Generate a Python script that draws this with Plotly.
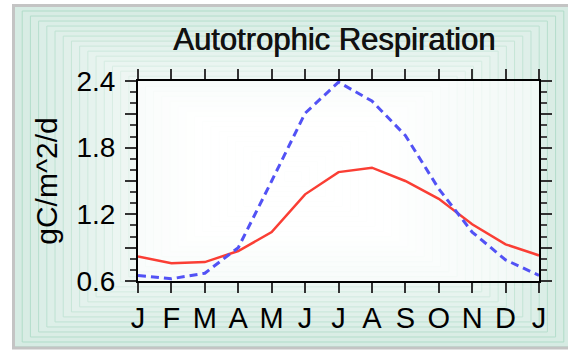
import plotly.graph_objects as go

# ---- data ----
month_labels = ["J", "F", "M", "A", "M", "J", "J", "A", "S", "O", "N", "D", "J"]
month_pos = list(range(13))
red_series = [0.82, 0.76, 0.77, 0.87, 1.04, 1.38, 1.58, 1.62, 1.50, 1.34, 1.11, 0.93, 0.83]
blue_series = [0.65, 0.62, 0.67, 0.90, 1.50, 2.11, 2.39, 2.22, 1.91, 1.43, 1.04, 0.79, 0.65]
y_tickvals = [0.6, 0.9, 1.2, 1.5, 1.8, 2.1, 2.4]
y_ticktext = ["0.6", "", "1.2", "", "1.8", "", "2.4"]

W, H = 568, 350
L, R, T, B = 138, 29, 81, 69
PW, PH = W - L - R, H - T - B


def px(x):
    return (x - L) / PW


def py(y):
    return (H - B - y) / PH


def lerp(a, b, t):
    return tuple(round(a[i] + (b[i] - a[i]) * t) for i in range(3))


shapes = []
# concentric gradient background panel
x0p, y0p, x1p, y1p = 14, 6, 572, 347
cx, cy = (x0p + x1p) / 2, (y0p + y1p) / 2
hw, hh = (x1p - x0p) / 2, (y1p - y0p) / 2
N = 34
fill_edge, fill_center = (214, 235, 227), (255, 255, 255)
line_edge, line_center = (172, 218, 198), (250, 252, 251)
for k in range(N):
    t = k / N
    s = 1 - t
    f = lerp(fill_edge, fill_center, min(1, t * 1.5))
    lc = lerp(line_edge, line_center, min(1, t * 1.6))
    shapes.append(dict(
        type="rect", xref="paper", yref="paper", layer="below",
        x0=px(cx - hw * s), x1=px(cx + hw * s),
        y0=py(cy + hh * s), y1=py(cy - hh * s),
        fillcolor="rgb(%d,%d,%d)" % f,
        line=dict(color="rgb(%d,%d,%d)" % lc, width=1),
    ))
# gray frame
shapes.append(dict(
    type="rect", xref="paper", yref="paper", layer="below",
    x0=px(13.5), x1=px(580), y0=py(348), y1=py(5.5),
    fillcolor="rgba(0,0,0,0)", line=dict(color="#c4c4c4", width=3),
))
# lighter plot area
shapes.append(dict(
    type="rect", xref="paper", yref="paper", layer="below",
    x0=0, x1=1, y0=0, y1=1,
    fillcolor="rgba(255,255,255,0.6)", line=dict(width=0),
))

fig = go.Figure()
fig.add_trace(go.Scatter(
    x=month_pos, y=red_series, mode="lines",
    line=dict(color="rgb(250,62,52)", width=2.5),
    showlegend=False, hoverinfo="skip",
))
fig.add_trace(go.Scatter(
    x=month_pos, y=blue_series, mode="lines",
    line=dict(color="rgb(82,82,245)", width=3, dash="8px,5px"),
    showlegend=False, hoverinfo="skip",
))

fig.update_layout(
    width=W, height=H,
    margin=dict(l=L, r=R, t=T, b=B, pad=0),
    paper_bgcolor="white",
    plot_bgcolor="rgba(0,0,0,0)",
    shapes=shapes,
    font=dict(family="Liberation Sans, Arial, sans-serif", color="black"),
    annotations=[dict(
        text="Autotrophic Respiration", xref="paper", yref="paper",
        x=px(334), y=py(39), xanchor="center", yanchor="middle", showarrow=False,
        font=dict(family="Liberation Sans, Arial, sans-serif", size=31, color="#111",
                  shadow="0.7px 0px 0px #111"),
    )],
)
fig.update_xaxes(
    range=[0, 12], tickmode="array", tickvals=month_pos, ticktext=month_labels,
    showgrid=False, zeroline=False,
    showline=True, linecolor="black", linewidth=2, mirror="ticks",
    ticks="outside", ticklen=10, tickwidth=2, tickcolor="#333",
    tickfont=dict(size=29, color="black"),
)
fig.update_yaxes(
    range=[0.6, 2.4], tickmode="array", tickvals=y_tickvals, ticktext=y_ticktext,
    showgrid=False, zeroline=False,
    showline=True, linecolor="black", linewidth=2, mirror="ticks",
    ticks="outside", ticklen=11, tickwidth=2, tickcolor="#333",
    tickfont=dict(size=28, color="black"), ticklabelstandoff=4,
    minor=dict(tickmode="linear", tick0=0.6, dtick=0.1, ticks="outside",
               ticklen=6, tickwidth=2, tickcolor="#444", showgrid=False),
    title=dict(text="gC/m^2/d", font=dict(size=30, color="black"), standoff=10),
)

fig.write_html("out.html", config={"displayModeBar": False})
